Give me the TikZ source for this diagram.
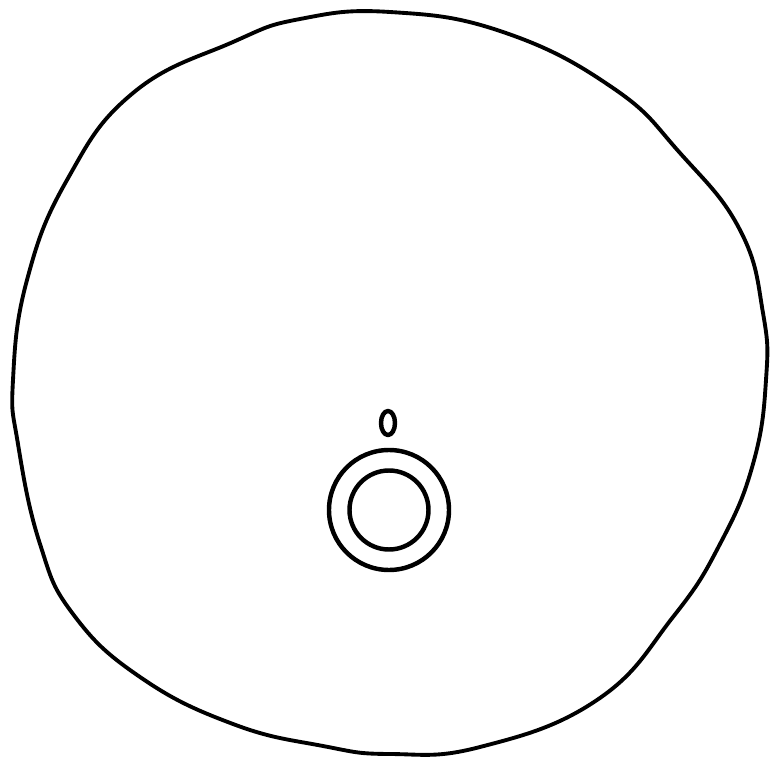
\documentclass[tikz,border=0pt]{standalone}
\begin{document}
\begin{tikzpicture}[x=0.03cm,y=-0.03cm,
  ink/.style={draw=black,line width=3.8pt,line join=round},
  outline ink/.style={draw=black,line width=3.3pt,line join=round}]
\useasboundingbox (0,0) rectangle (770,757);
\fill[white] (0,0) rectangle (770,757);
% outer hand-drawn circle
\draw[outline ink] plot[smooth cycle,tension=0.75] coordinates {
 (390,12) (503,32) (613,88) (680,153) (740,230) (763,313) (766,380)
 (753,464) (720,544) (673,617) (597,700) (480,747) (390,754) (323,746)
 (233,724) (140,677) (73,614) (40,544) (18,444) (13,380) (27,280)
 (67,180) (133,93) (233,42) (300,19)};
% small ellipse
\draw[ink] (388,423) ellipse [x radius=7, y radius=12];
% concentric circles
\node[ink,circle,minimum size=120*0.03cm,inner sep=0pt] (outer) at (389,510) {};
\node[ink,circle,minimum size=79*0.03cm,inner sep=0pt] (inner) at (389,510) {};
\end{tikzpicture}
\end{document}
